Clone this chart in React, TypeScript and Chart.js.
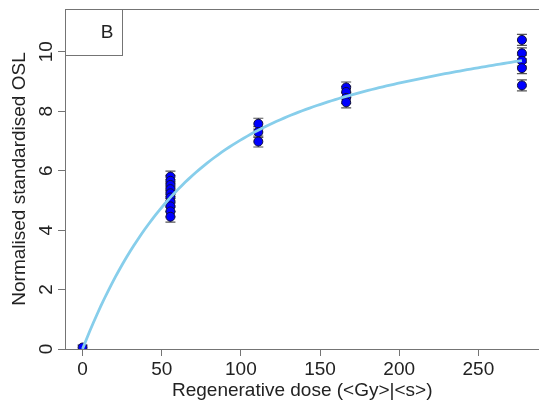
import React, { useEffect, useRef } from "react";
import { Chart, registerables } from "chart.js";

Chart.register(...registerables);

// Regenerative doses (one entry per measured aliquot)
const regenDose = [
  0,
  55.5, 55.5, 55.5, 55.5, 55.5, 55.5, 55.5, 55.5, 55.5, 55.5,
  111, 111, 111,
  166.5, 166.5, 166.5, 166.5,
  277.5, 277.5, 277.5, 277.5, 277.5,
];

// Normalised standardised OSL for each aliquot
const normOsl = [
  0.05,
  5.8, 5.66, 5.52, 5.38, 5.24, 5.1, 4.95, 4.8, 4.63, 4.45,
  7.58, 7.3, 6.98,
  8.8, 8.65, 8.45, 8.3,
  10.4, 9.95, 9.7, 9.45, 8.87,
];

// Standard error of each normalised value
const oslError = [
  0.05,
  0.15, 0.15, 0.15, 0.15, 0.15, 0.15, 0.15, 0.15, 0.15, 0.15,
  0.15, 0.15, 0.15,
  0.15, 0.15, 0.15, 0.15,
  0.15, 0.15, 0.15, 0.15, 0.15,
];

const xTicks = [0, 50, 100, 150, 200, 250];
const yTicks = [0, 2, 4, 6, 8, 10];

// Saturating exponential plus linear dose-response fit: y = A(1 - exp(-x/D0)) + B x
const FIT_A = 7.792;
const FIT_D0 = 60;
const FIT_B = 0.00717;
const FIT_STEPS = 120;

const FONT = "'Liberation Sans', Arial, sans-serif";
const TEXT = "#222";
const FRAME = "#747474";

const fitValue = (x: number) => FIT_A * (1 - Math.exp(-x / FIT_D0)) + FIT_B * x;

export default function App() {
  const ref = useRef<HTMLCanvasElement | null>(null);

  useEffect(() => {
    const canvas = ref.current;
    if (!canvas) return;

    const maxDose = Math.max(...regenDose);
    const curve = Array.from({ length: FIT_STEPS + 1 }, (_, i) => {
      const x = (maxDose * i) / FIT_STEPS;
      return { x, y: fitValue(x) };
    });
    const points = regenDose.map((x, i) => ({ x, y: normOsl[i] }));

    const decor = {
      id: "decor",
      beforeDatasetsDraw(chart: any) {
        const { ctx, chartArea, scales } = chart;
        const xs = scales.x;
        const ys = scales.y;
        ctx.save();
        ctx.beginPath();
        ctx.rect(chartArea.left, chartArea.top, chartArea.right - chartArea.left, chartArea.bottom - chartArea.top);
        ctx.clip();
        ctx.strokeStyle = "#555";
        ctx.lineWidth = 1.2;
        regenDose.forEach((d, i) => {
          const px = xs.getPixelForValue(d);
          const y1 = ys.getPixelForValue(normOsl[i] - oslError[i]);
          const y2 = ys.getPixelForValue(normOsl[i] + oslError[i]);
          ctx.beginPath();
          ctx.moveTo(px, y1 + 1);
          ctx.lineTo(px, y2 - 1);
          ctx.moveTo(px - 5, y1 + 1);
          ctx.lineTo(px + 5, y1 + 1);
          ctx.moveTo(px - 5, y2 - 1);
          ctx.lineTo(px + 5, y2 - 1);
          ctx.stroke();
        });
        ctx.restore();
      },
      afterDraw(chart: any) {
        const { ctx, chartArea, scales } = chart;
        const ys = scales.y;
        ctx.save();
        // plot frame
        ctx.strokeStyle = FRAME;
        ctx.lineWidth = 1;
        ctx.strokeRect(
          Math.round(chartArea.left) + 0.5,
          Math.round(chartArea.top) + 0.5,
          Math.round(chartArea.right - chartArea.left),
          Math.round(chartArea.bottom - chartArea.top)
        );
        // panel label box
        ctx.strokeRect(Math.round(chartArea.left) + 0.5, Math.round(chartArea.top) + 0.5, 57, 46);
        ctx.fillStyle = TEXT;
        ctx.font = `19px ${FONT}`;
        ctx.textAlign = "center";
        ctx.textBaseline = "middle";
        ctx.fillText("B", chartArea.left + 42, chartArea.top + 24);

        // y tick labels, parallel to the axis
        yTicks.forEach((v) => {
          const py = ys.getPixelForValue(v);
          ctx.save();
          ctx.translate(47, py);
          ctx.rotate(-Math.PI / 2);
          ctx.fillText(String(v), 0, 0);
          ctx.restore();
        });

        // axis titles
        const cx = (chartArea.left + chartArea.right) / 2;
        const cy = (chartArea.top + chartArea.bottom) / 2;
        ctx.fillText("Regenerative dose (<Gy>|<s>)", cx, 391);
        ctx.save();
        ctx.translate(20, cy);
        ctx.rotate(-Math.PI / 2);
        ctx.fillText("Normalised standardised OSL", 0, 0);
        ctx.restore();
        ctx.restore();
      },
    };

    const chart = new Chart(canvas, {
      type: "scatter",
      data: {
        datasets: [
          {
            type: "line",
            data: curve,
            borderColor: "#87CEEB",
            borderWidth: 2.8,
            pointRadius: 0,
            fill: false,
            tension: 0,
            order: 0,
            clip: 0,
          } as any,
          {
            type: "scatter",
            data: points,
            backgroundColor: "#0000FF",
            borderColor: "#10103a",
            borderWidth: 1,
            pointRadius: 4.5,
            order: 1,
            clip: 0,
          } as any,
        ],
      },
      options: {
        animation: false,
        responsive: false,
        events: [],
        layout: { padding: { top: 9, right: 4, left: 0, bottom: 0 } },
        plugins: { legend: { display: false }, tooltip: { enabled: false } },
        scales: {
          x: {
            type: "linear",
            min: -11.1,
            max: 288.6,
            afterBuildTicks: (s: any) => {
              s.ticks = xTicks.map((v) => ({ value: v }));
            },
            afterFit: (s: any) => {
              s.height = 60;
            },
            grid: { drawOnChartArea: false, drawTicks: true, tickLength: 7, tickColor: FRAME, lineWidth: 1 },
            border: { display: false },
            ticks: {
              font: { family: FONT, size: 19 },
              color: TEXT,
              padding: 2,
              maxRotation: 0,
              minRotation: 0,
              autoSkip: false,
            },
          },
          y: {
            type: "linear",
            min: 0,
            max: 11.44,
            afterBuildTicks: (s: any) => {
              s.ticks = yTicks.map((v) => ({ value: v }));
            },
            afterFit: (s: any) => {
              s.width = 65;
            },
            grid: { drawOnChartArea: false, drawTicks: true, tickLength: 7, tickColor: FRAME, lineWidth: 1 },
            border: { display: false },
            ticks: { display: false },
          },
        },
      } as any,
      plugins: [decor],
    });

    return () => chart.destroy();
  }, []);

  return (
    <div
      style={{
        position: "fixed",
        left: 0,
        top: 0,
        width: 539,
        height: 409,
        overflow: "hidden",
        background: "#fff",
      }}
    >
      <canvas ref={ref} width={545} height={409} style={{ width: 545, height: 409, display: "block" }} />
    </div>
  );
}
